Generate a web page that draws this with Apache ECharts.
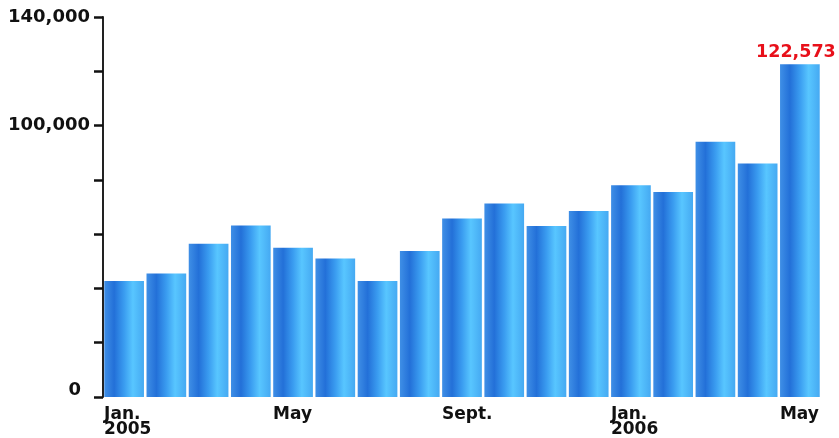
<!DOCTYPE html>
<html>
<head>
<meta charset="utf-8">
<script src="https://cdn.jsdelivr.net/npm/echarts@6/dist/echarts.min.js"></script>
<style>
html,body{margin:0;padding:0;background:#fff;}
#c{width:839px;height:438px;}
</style>
</head>
<body>
<div id="c"></div>
<script>
// Data
const months = ['Jan. 2005','Feb. 2005','Mar. 2005','Apr. 2005','May 2005','Jun. 2005','Jul. 2005','Aug. 2005','Sept. 2005','Oct. 2005','Nov. 2005','Dec. 2005','Jan. 2006','Feb. 2006','Mar. 2006','Apr. 2006','May 2006'];
const xTickLabels = [['Jan.','2005'],[],[],[],['May'],[],[],[],['Sept.'],[],[],[],['Jan.','2006'],[],[],[],['May']];
const values = [42700,45500,56500,63200,55000,51000,42700,53800,65800,71300,63000,68500,78000,75500,94000,86000,122573];
const yTickLabels = {0:'0',100000:'100,000',140000:'140,000'};
const labelledIndex = 16;

const font = '"DejaVu Sans", Verdana, sans-serif';
const chart = echarts.init(document.getElementById('c'), null, {renderer:'canvas'});
chart.setOption({
  animation:false,
  backgroundColor:'#ffffff',
  grid:{left:103, right:18, top:17, bottom:40, containLabel:false},
  xAxis:{
    type:'category',
    data:months,
    axisLine:{show:false},
    axisTick:{show:false},
    axisLabel:{
      interval:0,
      margin:10,
      align:'center',
      fontFamily:font, fontWeight:'bold', fontSize:17, color:'#111',
      formatter:(v,i)=>xTickLabels[i].map(s=>'{a|'+s+'}').join('\n'),
      rich:{ a:{fontFamily:font, fontWeight:'bold', fontSize:17, color:'#111', width:40, align:'left', lineHeight:15} }
    }
  },
  yAxis:{
    type:'value', min:0, max:140000, interval:20000,
    splitLine:{show:false},
    axisLine:{show:true, lineStyle:{color:'#222', width:2}},
    axisTick:{show:true, length:9, lineStyle:{color:'#111', width:2.5}},
    axisLabel:{
      margin:13,
      fontFamily:font, fontWeight:'bold', fontSize:18, color:'#111',
      formatter:function(v){
        const t = yTickLabels[v];
        if(t===undefined) return '';
        if(v===0) return '{z|'+t+'}';
        return t;
      },
      rich:{ z:{fontFamily:font, fontWeight:'bold', fontSize:18, color:'#111', padding:[0,9,14,0]} }
    }
  },
  series:[{
    type:'bar',
    data:values.map((v,i)=>i===labelledIndex?{value:v,label:{show:true}}:v),
    barCategoryGap:'6%',
    itemStyle:{
      color:new echarts.graphic.LinearGradient(0,0,1,0,[
        {offset:0,color:'#3f8fe6'},
        {offset:0.25,color:'#2370d8'},
        {offset:0.5,color:'#3a9cf0'},
        {offset:0.72,color:'#58c6ff'},
        {offset:1,color:'#45a9f2'}
      ])
    },
    label:{
      show:false, position:'top', distance:3, offset:[-4,0],
      fontFamily:font, fontWeight:'bold', fontSize:17.5, color:'#e8101a',
      formatter:(p)=>p.value.toLocaleString('en-US')
    }
  }]
});
</script>
</body>
</html>
